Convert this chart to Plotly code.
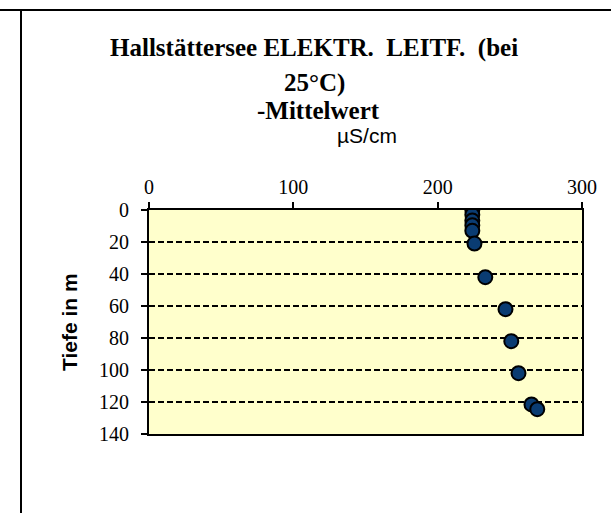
import plotly.graph_objects as go

# Data
depth_m = [0, 3, 6.5, 9.5, 13, 21, 42, 62, 82, 102, 121.5, 124.5]
conductivity = [224, 224, 224, 224, 224, 225.5, 233, 247, 251, 256, 265, 269]
x_ticks = [0, 100, 200, 300]
y_ticks = [0, 20, 40, 60, 80, 100, 120, 140]

title_lines = ["Hallstättersee ELEKTR.\u00a0 LEITF.\u00a0 (bei", "25°C)", "-Mittelwert"]
x_title = "µS/cm"
y_title = "Tiefe in m"

W, H = 613, 513
L, R, T, B = 149, 31, 210, 79
pw, ph = W - L - R, H - T - B

def px(xp):
    return (xp - L) / pw

def py(yp):
    return (H - B - yp) / ph

fig = go.Figure()
fig.add_trace(go.Scatter(
    x=conductivity, y=depth_m, mode="markers",
    marker=dict(size=14, color="#0A3C72", line=dict(color="black", width=2)),
    showlegend=False, hoverinfo="x+y",
))

serif = "Liberation Serif, Times New Roman, serif"
sans = "Liberation Sans, Arial, sans-serif"

fig.update_layout(
    width=W, height=H,
    margin=dict(l=L, r=R, t=T, b=B, pad=0),
    paper_bgcolor="white",
    plot_bgcolor="#FFFFCC",
    xaxis=dict(
        range=[0, 300], side="top", tickvals=x_ticks,
        showgrid=False, zeroline=False,
        showline=True, linecolor="black", linewidth=2, mirror=True,
        ticks="outside", ticklen=6, tickwidth=2, tickcolor="black",
        tickfont=dict(family=serif, size=20, color="black"),
    ),
    yaxis=dict(
        range=[140, 0], tickvals=y_ticks,
        showgrid=True, gridcolor="black", gridwidth=1.5, griddash="6px,3px",
        zeroline=False,
        showline=True, linecolor="black", linewidth=2, mirror=True,
        ticks="outside", ticklen=6, tickwidth=2, tickcolor="black",
        ticklabelstandoff=8,
        tickfont=dict(family=serif, size=20, color="black"),
    ),
    shapes=[
        dict(type="line", xref="paper", yref="paper",
             x0=px(0), x1=px(611), y0=py(10), y1=py(10),
             line=dict(color="black", width=2)),
        dict(type="line", xref="paper", yref="paper",
             x0=px(21), x1=px(21), y0=py(10), y1=py(513),
             line=dict(color="black", width=2)),
    ],
)

annotations = [
    dict(text="<b>" + title_lines[0] + "</b>", x=px(314), y=py(48),
         font=dict(family=serif, size=25, color="black")),
    dict(text="<b>" + title_lines[1] + "</b>", x=px(314), y=py(83),
         font=dict(family=serif, size=25, color="black")),
    dict(text="<b>" + title_lines[2] + "</b>", x=px(318), y=py(110),
         font=dict(family=serif, size=25, color="black")),
    dict(text=x_title, x=px(367), y=py(135),
         font=dict(family=sans, size=21, color="black")),
    dict(text="<b>" + y_title + "</b>", x=px(69), y=py(322), textangle=-90,
         font=dict(family=sans, size=21, color="black")),
]
for a in annotations:
    a.update(xref="paper", yref="paper", showarrow=False,
             xanchor="center", yanchor="middle")
fig.update_layout(annotations=annotations)

fig.write_html(
    "out.html",
    config={"displayModeBar": False},
    post_script="document.body.style.margin='0';document.body.style.overflow='hidden';",
)
